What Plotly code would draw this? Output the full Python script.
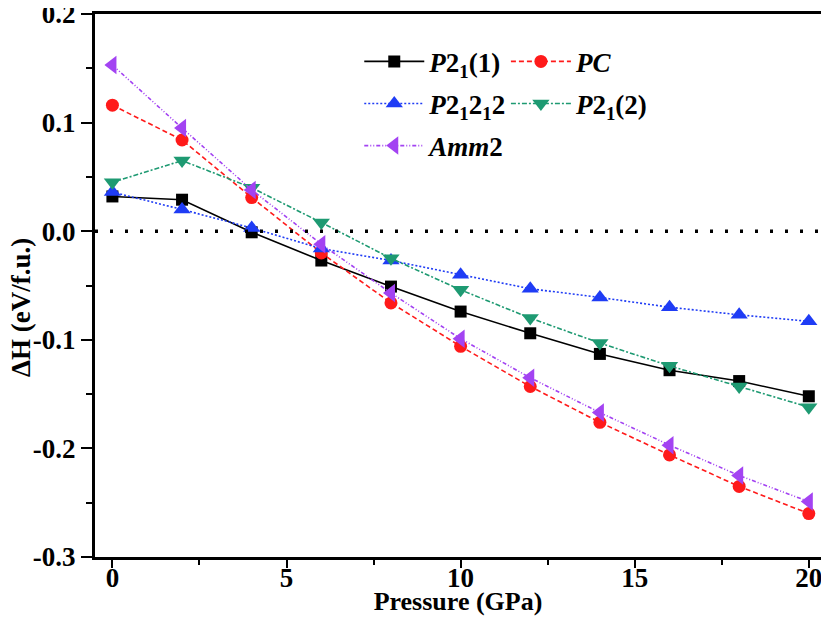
import plotly.graph_objects as go

pressure = [0, 2, 4, 6, 8, 10, 12, 14, 16, 18, 20]

p21_1 = [0.032, 0.029, -0.001, -0.027, -0.051, -0.074, -0.094, -0.113, -0.128, -0.138, -0.152]
pc = [0.116, 0.084, 0.031, -0.020, -0.066, -0.106, -0.143, -0.176, -0.206, -0.235, -0.260]
p21212 = [0.036, 0.020, 0.003, -0.016, -0.027, -0.040, -0.053, -0.061, -0.070, -0.077, -0.083]
p21_2 = [0.045, 0.065, 0.040, 0.008, -0.025, -0.054, -0.080, -0.103, -0.124, -0.143, -0.162]
amm2 = [0.153, 0.095, 0.038, -0.012, -0.057, -0.099, -0.135, -0.167, -0.197, -0.225, -0.249]

names = [
    "<b><i>P</i>2<sub>1</sub>(1)</b>",
    "<b><i>PC</i></b>",
    "<b><i>P</i>2<sub>1</sub>2<sub>1</sub>2</b>",
    "<b><i>P</i>2<sub>1</sub>(2)</b>",
    "<b><i>Amm</i>2</b>",
]

x_ticks = [0, 5, 10, 15, 20]
y_ticks = [-0.3, -0.2, -0.1, 0.0, 0.1, 0.2]
y_labels = ["-0.3", "-0.2", "-0.1", "0.0", "0.1", "0.2"]

FONT = "Liberation Serif"

fig = go.Figure()

def add_series(y, name, color, dash, symbol, size, legend, group):
    fig.add_trace(go.Scatter(
        x=pressure, y=y, name=name, mode="lines+markers",
        line=dict(color=color, dash=dash, width=1.6),
        marker=dict(symbol=symbol, size=size, color=color),
        legend=legend, legendgroup=group,
    ))

add_series(p21_1, names[0], "black", "solid", "square", 12, "legend", "a")
add_series(pc, names[1], "#ff1a1a", "5px,3px", "circle", 13, "legend2", "b")
add_series(p21212, names[2], "#1f3cf5", "2px,2px", "triangle-up", 15, "legend", "c")
add_series(p21_2, names[3], "#1e9a72", "5px,2px,2px,2px", "triangle-down", 15, "legend2", "d")
add_series(amm2, names[4], "#a343f2", "4px,2px,1px,2px,1px,2px", "triangle-left", 16, "legend", "e")

# zero reference line
fig.add_hline(y=0, line=dict(color="black", dash="3px,12px", width=3.5))

legend_style = dict(
    font=dict(family=FONT, size=27, color="black"),
    bgcolor="rgba(0,0,0,0)",
    itemwidth=60,
    tracegroupgap=4,
    xanchor="left", yanchor="top",
    traceorder="grouped",
)

# page adds an 8px body margin, so the figure is a bit smaller than the window
fig.update_layout(
    width=813, height=608,
    paper_bgcolor="white", plot_bgcolor="white",
    margin=dict(l=87, r=0, t=6, b=59),
    font=dict(family=FONT, size=20, color="black"),
    legend=dict(x=0.364, y=0.957, **legend_style),
    legend2=dict(x=0.566, y=0.957, **legend_style),
)

tick_font = dict(family=FONT, size=27, weight="bold")

fig.update_xaxes(
    range=[-0.5, 20.35],
    tickvals=x_ticks,
    ticks="outside", ticklen=8, tickwidth=2, tickcolor="black",
    minor=dict(tickvals=[2.5, 7.5, 12.5, 17.5], ticks="outside", ticklen=5, tickwidth=2, tickcolor="black"),
    showline=True, linewidth=3, linecolor="black", mirror=True,
    showgrid=False, zeroline=False, automargin=False,
    ticklabeloverflow="allow", ticklabelstandoff=-13,
    tickfont=tick_font,
    title=dict(text="Pressure (GPa)", font=dict(family=FONT, size=26, weight="bold"), standoff=0),
)

fig.update_yaxes(
    range=[-0.3, 0.2],
    tickvals=y_ticks,
    ticktext=y_labels,
    ticks="outside", ticklen=11, tickwidth=2, tickcolor="black",
    minor=dict(tickvals=[-0.25, -0.15, -0.05, 0.05, 0.15], ticks="outside", ticklen=6, tickwidth=2, tickcolor="black"),
    showline=True, linewidth=3, linecolor="black", mirror=True,
    showgrid=False, zeroline=False, automargin=False,
    ticklabeloverflow="allow",
    tickfont=tick_font,
)

# y title sits a little below the axis middle in the original
fig.add_annotation(
    text="ΔH (eV/f.u.)", textangle=-90,
    xref="paper", yref="paper", x=-0.101, y=0.46,
    xanchor="center", yanchor="middle", showarrow=False,
    font=dict(family=FONT, size=27, weight="bold"),
)

fig.write_html("out.html")
